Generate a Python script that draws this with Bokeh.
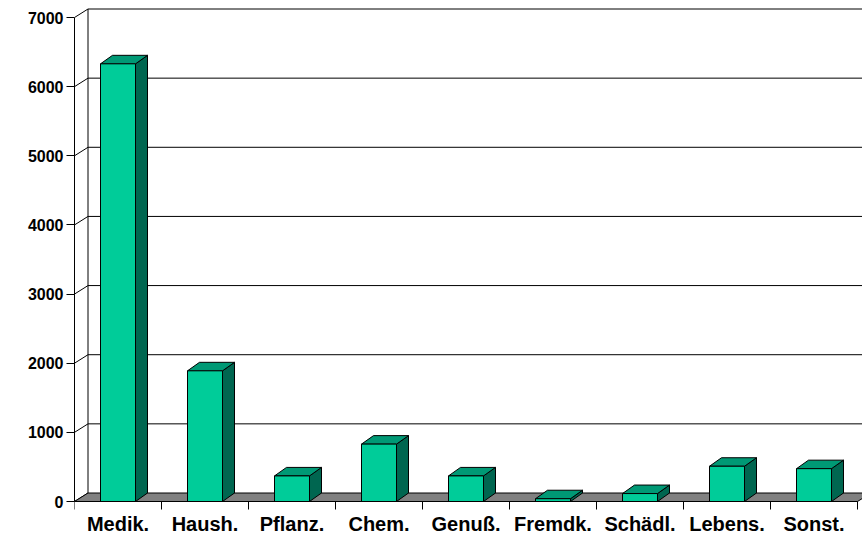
from bokeh.plotting import figure
from bokeh.models import FixedTicker, Range1d
from bokeh.embed import file_html
from bokeh.resources import INLINE
from bokeh.core.properties import value

# ---- data ----
categories = ["Medik.", "Haush.", "Pflanz.", "Chem.", "Genuß.", "Fremdk.", "Schädl.", "Lebens.", "Sonst."]
counts = [6330, 1890, 370, 830, 370, 40, 115, 510, 475]
y_ticks = [0, 1000, 2000, 3000, 4000, 5000, 6000, 7000]

# ---- geometry (pixels) ----
W, H = 862, 538
LEFT = 74                 # frame left border (y axis position)
CAT_PX = 87.0             # width of one category in px
PX_Y = 484.0 / 7000.0     # px per unit value
ZERO_FROM_TOP = 501.0     # zero line in px from figure top
WALL_DX, WALL_DY = 13.5, 8.5
BAR_DX, BAR_DY = 12.0, 8.5
BAR_HALF = 17.5           # half width of bar front in px
TICK_PX = 8.0
LABEL_PX = 22.0           # label centre below zero line

frame_w = W - LEFT
x_end = frame_w / CAT_PX
y_start = -(H - ZERO_FROM_TOP) / PX_Y
y_end = ZERO_FROM_TOP / PX_Y

def ux(px):
    return px / CAT_PX

def uy(px):
    return px / PX_Y

n = len(categories)
ymax = y_ticks[-1]

p = figure(width=W, height=H, output_backend="svg", toolbar_location=None,
           x_range=Range1d(0, x_end), y_range=Range1d(y_start, y_end),
           min_border_left=LEFT, min_border_right=0, min_border_top=0, min_border_bottom=0)
p.xaxis.visible = False
p.xgrid.visible = False
p.ygrid.visible = False
p.outline_line_color = None
p.background_fill_color = "white"
p.border_fill_color = "white"

ax = p.yaxis[0]
ax.ticker = FixedTicker(ticks=y_ticks)
ax.bounds = (0, ymax)
ax.axis_line_color = "black"
ax.axis_line_width = 1
ax.major_tick_out = int(TICK_PX)
ax.major_tick_in = 0
ax.minor_tick_out = 0
ax.minor_tick_in = 0
ax.major_tick_line_color = "black"
ax.major_label_text_font = "Liberation Sans"
ax.major_label_text_font_style = "bold"
ax.major_label_text_font_size = "16px"
ax.major_label_text_color = "black"
ax.major_label_standoff = 3

wdx, wdy = ux(WALL_DX), uy(WALL_DY)
bdx, bdy = ux(BAR_DX), uy(BAR_DY)
hw = ux(BAR_HALF)

# back wall gridlines
p.segment(x0=[wdx] * (len(y_ticks) - 1), y0=[v + wdy for v in y_ticks[1:]],
          x1=[x_end + 1] * (len(y_ticks) - 1), y1=[v + wdy for v in y_ticks[1:]],
          line_color="black", line_width=1)
# side wall diagonals
p.segment(x0=[0] * len(y_ticks), y0=y_ticks,
          x1=[wdx] * len(y_ticks), y1=[v + wdy for v in y_ticks],
          line_color="black", line_width=1)
# back wall left edge
p.segment(x0=[wdx], y0=[wdy], x1=[wdx], y1=[ymax + wdy], line_color="black", line_width=1)

# floor
p.patch(x=[0, n, n + wdx, wdx], y=[0, 0, wdy, wdy],
        fill_color="#808080", line_color="black", line_width=1)

# bars
centers = [i + 0.5 for i in range(n)]
front_l = [c - hw for c in centers]
front_r = [c + hw for c in centers]
top_xs = [[l, r, r + bdx, l + bdx] for l, r in zip(front_l, front_r)]
top_ys = [[v, v, v + bdy, v + bdy] for v in counts]
side_xs = [[r, r + bdx, r + bdx, r] for r in front_r]
side_ys = [[0, bdy, v + bdy, v] for v in counts]

p.patches(xs=side_xs, ys=side_ys, fill_color="#006650", line_color="black", line_width=1)
p.patches(xs=top_xs, ys=top_ys, fill_color="#009975", line_color="black", line_width=1)
p.quad(left=front_l, right=front_r, bottom=[0] * n, top=counts,
       fill_color="#00CC99", line_color="black", line_width=1)

# x axis line and ticks
p.segment(x0=[0], y0=[0], x1=[n], y1=[0], line_color="black", line_width=1)
bounds = list(range(n + 1))
p.segment(x0=bounds, y0=[0] * len(bounds), x1=bounds, y1=[-uy(TICK_PX)] * len(bounds),
          line_color="black", line_width=1)

# category labels
p.text(x=centers, y=[-uy(LABEL_PX)] * n, text=categories,
       text_font=value("Liberation Sans"), text_font_style="bold", text_font_size="20px",
       text_align="center", text_baseline="middle", text_color="black")

open("out.html", "w").write(file_html(p, INLINE))
